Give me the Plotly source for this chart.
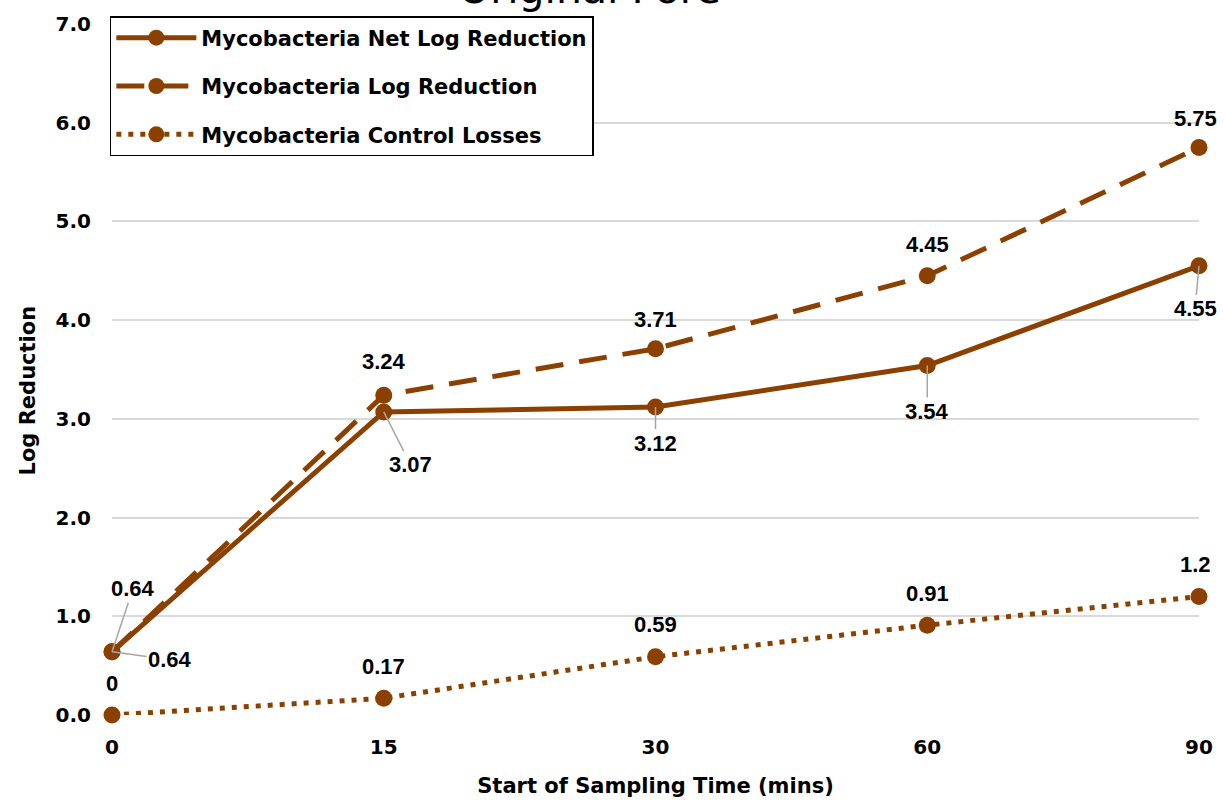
import plotly.graph_objects as go

# Sampling start times (minutes) and measured log values
times = ["0", "15", "30", "60", "90"]
net_log_reduction = [0.64, 3.07, 3.12, 3.54, 4.55]
log_reduction = [0.64, 3.24, 3.71, 4.45, 5.75]
control_losses = [0, 0.17, 0.59, 0.91, 1.2]

series_names = [
    "Mycobacteria Net Log Reduction",
    "Mycobacteria Log Reduction",
    "Mycobacteria Control Losses",
]
y_ticks = [0, 1, 2, 3, 4, 5, 6, 7]
y_tick_text = ["0.0", "1.0", "2.0", "3.0", "4.0", "5.0", "6.0", "7.0"]

BROWN = "rgb(139,64,0)"
GRID = "#d9d9d9"
LABEL_FONT = dict(family="Liberation Sans, Arial, sans-serif", size=22, color="#000", weight="bold")
AXIS_FONT = "DejaVu Sans, sans-serif"

fig = go.Figure()

styles = [
    dict(dash="solid", width=5),
    dict(dash="28px,16px", width=5),
    dict(dash="5px,7px", width=5),
]
for i, (name, vals) in enumerate(zip(series_names, [net_log_reduction, log_reduction, control_losses])):
    fig.add_trace(go.Scatter(
        x=times, y=vals, name=name, mode="lines+markers",
        line=dict(color=BROWN, width=styles[i]["width"], dash=styles[i]["dash"]),
        marker=dict(color=BROWN, size=17),
        cliponaxis=False, legendgroup=f"g{i}",
    ))

annotations = []

def label(idx, y, text, dx=0, dy=-30, leader=False):
    # idx is the category position on the x axis
    if leader:
        annotations.append(dict(
            x=idx, y=y, xref="x", yref="y", text=text, font=LABEL_FONT,
            showarrow=True, arrowhead=0, arrowwidth=1.5, arrowcolor="#a6a6a6",
            ax=dx, ay=dy, standoff=0,
        ))
    else:
        annotations.append(dict(
            x=idx, y=y, xref="x", yref="y", text=text, font=LABEL_FONT,
            showarrow=False, xshift=dx, yshift=-dy,
        ))

# Net log reduction: labels below, with leader lines
label(0, net_log_reduction[0], "0.64", 58, 8, leader=True)
label(1, net_log_reduction[1], "3.07", 27, 53, leader=True)
label(2, net_log_reduction[2], "3.12", 0, 36, leader=True)
label(3, net_log_reduction[3], "3.54", 0, 46, leader=True)
label(4, net_log_reduction[4], "4.55", -4, 43, leader=True)

# Log reduction: labels above
label(0, log_reduction[0], "0.64", 21, -63, leader=True)
label(1, log_reduction[1], "3.24", 0, -34)
label(2, log_reduction[2], "3.71", 0, -29)
label(3, log_reduction[3], "4.45", 0, -31)
label(4, log_reduction[4], "5.75", -4, -29)

# Control losses: labels above
for i, v in enumerate(control_losses):
    label(i, v, f"{v:g}", -4 if i == 4 else 0, -32)

# Chart title (runs off the top edge of the page)
annotations.append(dict(
    x=0.439, y=1, xref="paper", yref="paper", text="Original Pore",
    font=dict(family="DejaVu Sans, sans-serif", size=41, color="#000"),
    showarrow=False, xanchor="center", yanchor="bottom", yshift=9,
))

# Vertical axis title, set a little below the plot's mid-height
annotations.append(dict(
    x=28, y=3.29, xref="paper", yref="y", text="Log Reduction",
    font=dict(family=AXIS_FONT, size=21, color="#000", weight="bold"),
    showarrow=False, textangle=-90, xanchor="center", yanchor="middle",
))
annotations[-1]["x"] = (28 - 112) / 1090

fig.update_layout(
    width=1225, height=807,
    margin=dict(l=112, r=23, t=17, b=92),
    paper_bgcolor="white", plot_bgcolor="white",
    annotations=annotations,
    showlegend=True,
    legend=dict(
        x=-0.002, y=1.0115, xanchor="left", yanchor="top",
        bgcolor="white", bordercolor="#000", borderwidth=1.5,
        font=dict(family=AXIS_FONT, size=21, color="#000", weight="bold"),
        itemwidth=80, tracegroupgap=18,
        traceorder="grouped",
    ),
    xaxis=dict(
        type="category", categoryorder="array", categoryarray=times,
        range=[0, 4], showgrid=False, zeroline=False, showline=False,
        ticks="", ticklabelstandoff=18,
        tickfont=dict(family=AXIS_FONT, size=20, color="#000", weight="bold"),
        title=dict(text="Start of Sampling Time (mins)", standoff=20,
                   font=dict(family=AXIS_FONT, size=21, color="#000", weight="bold")),
    ),
    yaxis=dict(
        range=[0, 7], tickvals=y_ticks, ticktext=y_tick_text,
        showgrid=True, gridcolor=GRID, gridwidth=1.5,
        zeroline=False, showline=False, ticks="", ticklabelstandoff=20,
        tickfont=dict(family=AXIS_FONT, size=20, color="#000", weight="bold"),
    ),
)

fig.write_html("out.html")
